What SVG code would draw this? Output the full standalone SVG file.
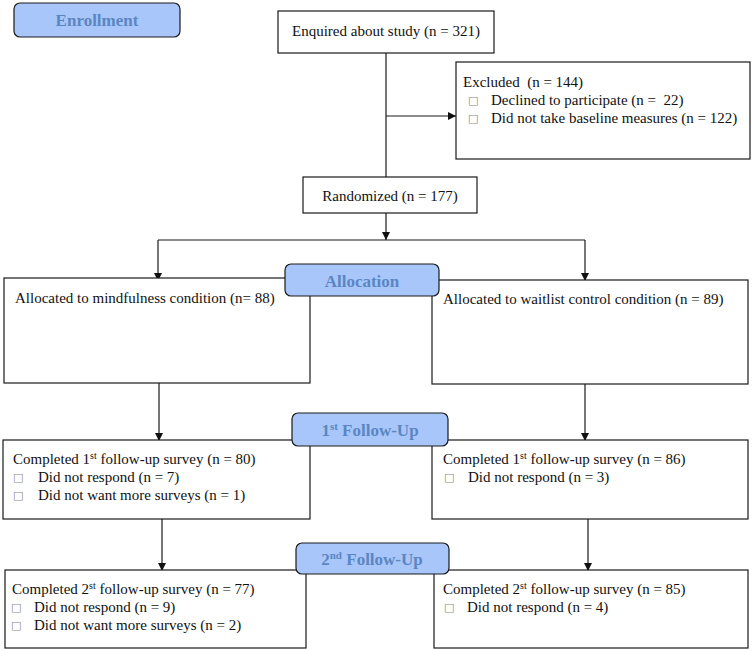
<svg xmlns="http://www.w3.org/2000/svg" width="752" height="650" viewBox="0 0 752 650">
<style>
.box{fill:#fff;stroke:#1a1a1a;stroke-width:1.2}
.hdr{fill:#a8c6fa;stroke:#1a1a1a;stroke-width:1.2}
.t{font-family:'Liberation Serif','DejaVu Serif',serif;font-size:15px;fill:#111}
.h{font-family:'Liberation Serif','DejaVu Serif',serif;font-size:17px;font-weight:bold;fill:#5b86c2;text-anchor:middle}
.b{font-family:'DejaVu Sans',sans-serif;font-size:11px;fill:#888}
.sup{font-size:10px}
.c{fill:none;stroke:#1a1a1a;stroke-width:1.2}
</style>
<defs>
<marker id="ah" viewBox="0 0 10 10" refX="10" refY="5" markerWidth="8" markerHeight="8" markerUnits="userSpaceOnUse" orient="auto">
<path d="M0,0 L10,5 L0,10 z" fill="#111"/>
</marker>
</defs>

<g id="connectors">
<path class="c" d="M386,53 V177"/>
<path class="c" d="M386,116 H456" marker-end="url(#ah)"/>
<path class="c" d="M386,213 V240" marker-end="url(#ah)"/>
<path class="c" d="M158,240 H585"/>
<path class="c" d="M158,240 V281" marker-end="url(#ah)"/>
<path class="c" d="M585,240 V281" marker-end="url(#ah)"/>
<path class="c" d="M159,383 V441" marker-end="url(#ah)"/>
<path class="c" d="M585,384 V441" marker-end="url(#ah)"/>
<path class="c" d="M162,519 V571" marker-end="url(#ah)"/>
<path class="c" d="M588,519 V571" marker-end="url(#ah)"/>
</g>

<g id="enrollment">
<rect class="hdr" x="14" y="3" width="166" height="34" rx="6"/>
<text class="h" x="97" y="26" font-family="Liberation Serif, serif">Enrollment</text>
</g>

<g id="enquired">
<rect class="box" x="278" y="11" width="216" height="42"/>
<text class="t" x="292" y="36" font-family="Liberation Serif, serif">Enquired about study (n = 321)</text>
</g>

<g id="excluded">
<rect class="box" x="456" y="62" width="294" height="97"/>
<text class="t" x="463" y="87" xml:space="preserve">Excluded  (n = 144)</text>
<text class="b" x="468" y="104">□</text>
<text class="t" x="491" y="105" xml:space="preserve">Declined to participate (n =  22)</text>
<text class="b" x="468" y="122">□</text>
<text class="t" x="491" y="123">Did not take baseline measures (n = 122)</text>
</g>

<g id="randomized">
<rect class="box" x="303" y="177" width="174" height="36"/>
<text class="t" x="390" y="201" text-anchor="middle">Randomized (n = 177)</text>
</g>

<g id="alloc-mind">
<rect class="box" x="4" y="278" width="306" height="105"/>
<text class="t" x="15" y="303">Allocated to mindfulness condition (n= 88)</text>
</g>

<g id="alloc-wait">
<rect class="box" x="432" y="280" width="316" height="104"/>
<text class="t" x="443" y="304">Allocated to waitlist control condition (n = 89)</text>
</g>

<g id="allocation">
<rect class="hdr" x="285" y="264" width="154" height="32" rx="6"/>
<text class="h" x="362" y="287">Allocation</text>
</g>

<g id="fu1-mind">
<rect class="box" x="3" y="440" width="307" height="79"/>
<text class="t" x="13" y="464">Completed 1<tspan class="sup" dy="-5">st</tspan><tspan dy="5"> follow-up survey (n = 80)</tspan></text>
<text class="b" x="13" y="481">□</text>
<text class="t" x="38" y="482">Did not respond (n = 7)</text>
<text class="b" x="13" y="499">□</text>
<text class="t" x="38" y="500">Did not want more surveys (n = 1)</text>
</g>

<g id="fu1-wait">
<rect class="box" x="432" y="440" width="316" height="79"/>
<text class="t" x="443" y="464">Completed 1<tspan class="sup" dy="-5">st</tspan><tspan dy="5"> follow-up survey (n = 86)</tspan></text>
<text class="b" x="444" y="481">□</text>
<text class="t" x="468" y="482">Did not respond (n = 3)</text>
</g>

<g id="followup1">
<rect class="hdr" x="292" y="413" width="156" height="33" rx="6"/>
<text class="h" x="370" y="436">1<tspan style="font-size:11px" dy="-6">st</tspan><tspan dy="6"> Follow-Up</tspan></text>
</g>

<g id="fu2-mind">
<rect class="box" x="5" y="570" width="301" height="78"/>
<text class="t" x="12" y="594">Completed 2<tspan class="sup" dy="-5">st</tspan><tspan dy="5"> follow-up survey (n = 77)</tspan></text>
<text class="b" x="11" y="611">□</text>
<text class="t" x="34" y="612">Did not respond (n = 9)</text>
<text class="b" x="11" y="629">□</text>
<text class="t" x="34" y="630">Did not want more surveys (n = 2)</text>
</g>

<g id="fu2-wait">
<rect class="box" x="434" y="570" width="314" height="78"/>
<text class="t" x="443" y="594">Completed 2<tspan class="sup" dy="-5">st</tspan><tspan dy="5"> follow-up survey (n = 85)</tspan></text>
<text class="b" x="444" y="611">□</text>
<text class="t" x="467" y="612">Did not respond (n = 4)</text>
</g>

<g id="followup2">
<rect class="hdr" x="296" y="543" width="153" height="31" rx="6"/>
<text class="h" x="372" y="565">2<tspan style="font-size:11px" dy="-6">nd</tspan><tspan dy="6"> Follow-Up</tspan></text>
</g>
</svg>
